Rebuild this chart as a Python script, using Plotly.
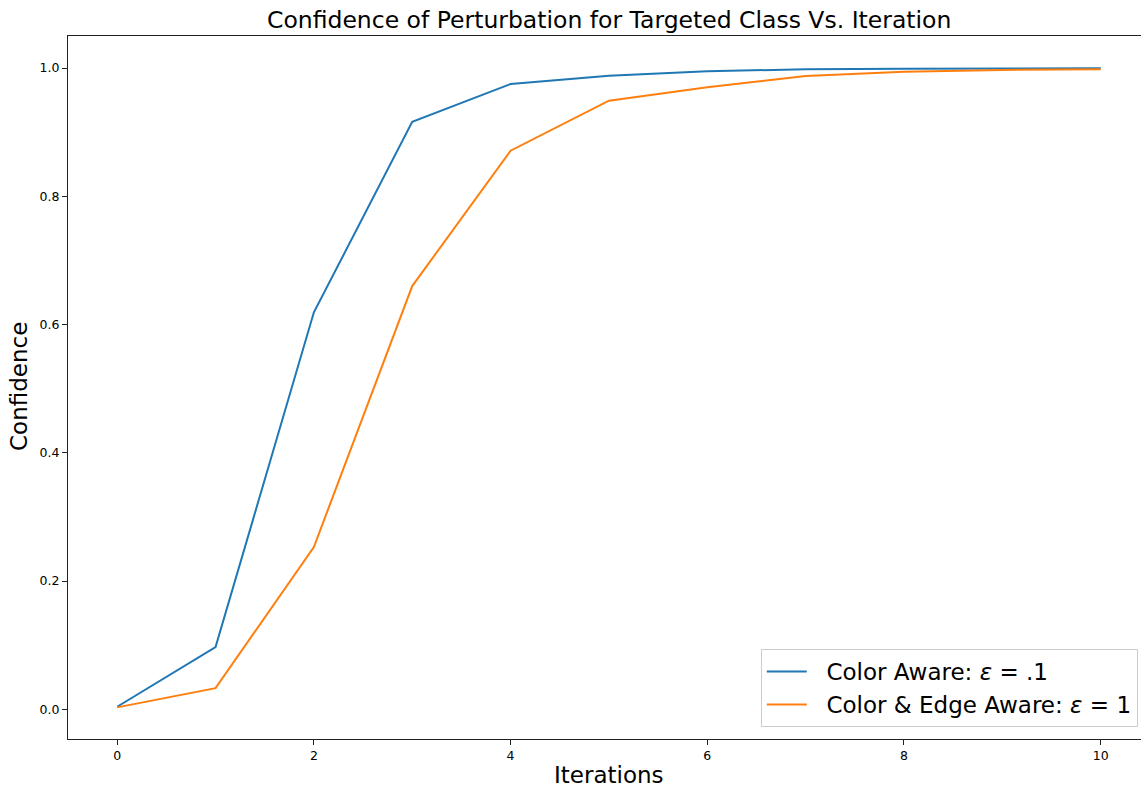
import plotly.graph_objects as go

# Confidence per iteration for two perturbation settings
iterations = [0, 1, 2, 3, 4, 5, 6, 7, 8, 9, 10]
color_aware = [0.004, 0.097, 0.619, 0.916, 0.975, 0.988, 0.995, 0.998, 0.999, 0.9995, 0.9997]
color_edge_aware = [0.003, 0.033, 0.253, 0.660, 0.871, 0.949, 0.970, 0.9875, 0.994, 0.997, 0.998]

series_names = ["Color Aware: <i>ε</i> = .1", "Color & Edge Aware: <i>ε</i> = 1"]
series_colors = ["#1f77b4", "#ff7f0e"]
x_ticks = [0, 2, 4, 6, 8, 10]
y_ticks = [0.0, 0.2, 0.4, 0.6, 0.8, 1.0]

FONT = "DejaVu Sans"
GAP = "\u00a0\u00a0"  # breathing room between legend line sample and label

fig = go.Figure()
for name, vals, col in zip(series_names, [color_aware, color_edge_aware], series_colors):
    fig.add_trace(go.Scatter(
        x=iterations, y=vals, mode="lines", name=GAP + name,
        line=dict(color=col, width=2),
    ))

W, H = 1141, 788
ml, mr, mt, mb = 68, 0, 36, 49

fig.update_layout(
    width=W, height=H,
    margin=dict(l=ml, r=mr, t=mt, b=mb, pad=0),
    paper_bgcolor="white", plot_bgcolor="white",
    font=dict(family=FONT, color="black"),
    showlegend=True,
    legend=dict(
        x=0.997, y=0.017, xanchor="right", yanchor="bottom",
        bgcolor="rgba(255,255,255,0.8)", bordercolor="#cccccc", borderwidth=1,
        font=dict(size=23, family=FONT, color="black"),
        tracegroupgap=0, itemwidth=40,
    ),
    annotations=[
        dict(text="Confidence of Perturbation for Targeted Class Vs. Iteration",
             xref="paper", yref="paper", x=0.504, y=1 + (36 - 20) / (H - mt - mb),
             xanchor="center", yanchor="middle", showarrow=False,
             font=dict(size=23.5, family=FONT, color="black")),
        dict(text="Iterations",
             xref="paper", yref="paper", x=0.504, y=-(775 - 739) / (H - mt - mb),
             xanchor="center", yanchor="middle", showarrow=False,
             font=dict(size=23, family=FONT, color="black")),
        dict(text="Confidence", textangle=-90,
             xref="paper", yref="paper", x=-(68 - 19) / (W - ml - mr),
             y=(739 - 387) / (H - mt - mb),
             xanchor="center", yanchor="middle", showarrow=False,
             font=dict(size=23, family=FONT, color="black")),
    ],
)

fig.update_xaxes(
    range=[-0.5, 10.41], tickvals=x_ticks, ticktext=[str(v) for v in x_ticks],
    showgrid=False, zeroline=False,
    showline=True, linecolor="#222222", linewidth=1.3, mirror=True,
    ticks="outside", ticklen=5, tickwidth=1.2, tickcolor="#222222",
    tickfont=dict(size=12.5, family=FONT, color="black"),
)
fig.update_yaxes(
    range=[-0.0463, 1.0499], tickvals=y_ticks, ticktext=[f"{v:.1f}" for v in y_ticks],
    showgrid=False, zeroline=False,
    showline=True, linecolor="#222222", linewidth=1.3, mirror=False,
    ticks="outside", ticklen=5, tickwidth=1.2, tickcolor="#222222",
    tickfont=dict(size=12.5, family=FONT, color="black"),
)

fig.write_html("out.html")
